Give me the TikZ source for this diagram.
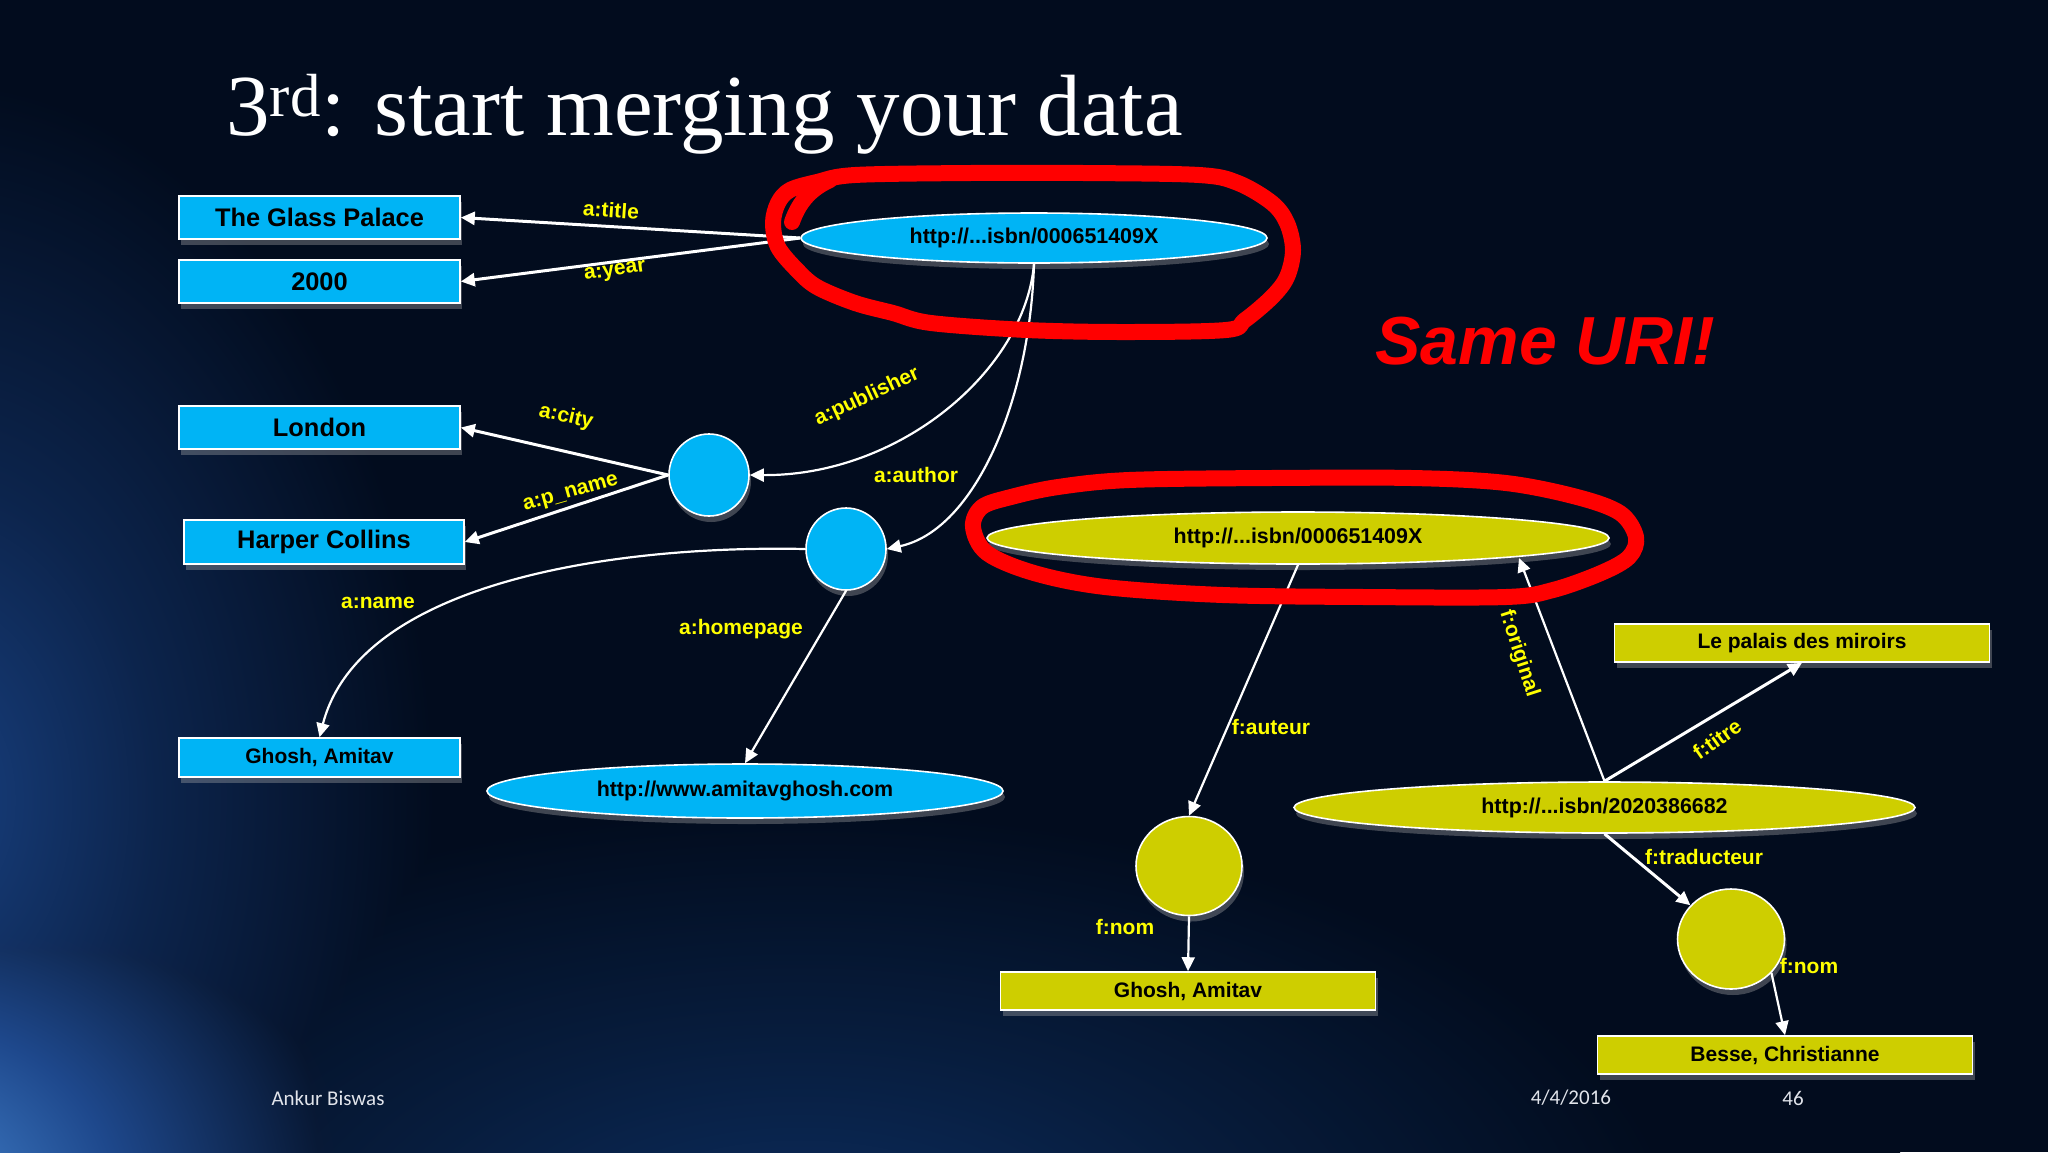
\documentclass[tikz,border=0pt]{standalone}
\usepackage{fontspec}
\setmainfont{Liberation Sans}
\newfontfamily\titlefont{Liberation Serif}
\newfontfamily\footfont{Carlito}
\usetikzlibrary{shapes.geometric,arrows.meta,shadows}
\definecolor{bg}{RGB}{2,12,30}
\definecolor{nodeblue}{RGB}{0,180,245}
\definecolor{nodeyel}{RGB}{206,206,0}
\definecolor{lblyel}{RGB}{255,255,0}
\definecolor{pen}{RGB}{255,0,0}
\definecolor{swA}{RGB}{24,64,128}
\definecolor{swAm}{RGB}{12,36,76}
\definecolor{swB}{RGB}{70,136,212}
\definecolor{swBm}{RGB}{30,72,140}
\definecolor{swC}{RGB}{12,45,95}
\definecolor{swCm}{RGB}{7,28,60}
\definecolor{foot}{RGB}{225,228,235}
\pgfdeclareradialshading{glowA}{\pgfpoint{0bp}{0bp}}{color(0bp)=(swA); color(9bp)=(swAm); color(20bp)=(bg); color(50bp)=(bg)}
\pgfdeclareradialshading{glowB}{\pgfpoint{0bp}{0bp}}{color(0bp)=(swB); color(9bp)=(swBm); color(20bp)=(bg); color(50bp)=(bg)}
\pgfdeclareradialshading{glowC}{\pgfpoint{0bp}{0bp}}{color(0bp)=(swC); color(10bp)=(swCm); color(20bp)=(bg); color(50bp)=(bg)}
\begin{document}
\begin{tikzpicture}[x=0.5pt,y=-0.5pt,
  shadowed/.style={drop shadow={shadow xshift=1pt,shadow yshift=-3pt,fill=gray!60,opacity=0.35}},
  bluebox/.style={shadowed,rectangle,draw=white,line width=0.8pt,fill=nodeblue,text=black,
    minimum width=140.5pt,minimum height=21.5pt,inner sep=0pt,font=\bfseries\fontsize{12.7}{15}\selectfont},
  yelbox/.style={shadowed,rectangle,draw=white,line width=0.8pt,fill=nodeyel,text=black,
    minimum width=187.5pt,minimum height=19pt,inner sep=0pt,font=\bfseries\fontsize{10.5}{12}\selectfont},
  uriell/.style={shadowed,ellipse,draw=white,line width=0.8pt,text=black,inner sep=0pt,
    font=\bfseries\fontsize{10.7}{12}\selectfont},
  dot/.style={shadowed,ellipse,draw=white,line width=0.8pt,inner sep=0pt},
  lbl/.style={text=lblyel,inner sep=0pt,font=\bfseries\fontsize{10.5}{12}\selectfont},
  edge/.style={draw=white,line width=1.5pt,-{Triangle[length=7pt,width=6.5pt]}},
  thinedge/.style={draw=white,line width=1.1pt,-{Triangle[length=7pt,width=6.5pt]}},
  loop/.style={draw=pen,line width=8pt,line join=round,line cap=round}
]
\useasboundingbox (0,0) rectangle (2048,1152);
\begin{scope}
\clip (0,0) rectangle (2048,1152);
\fill[bg] (0,0) rectangle (2048,1152);
\shade[shading=glowC,blend mode=lighten] (-300,700) rectangle (1900,1800);
\shade[shading=glowA,blend mode=lighten] (-700,-100) rectangle (560,1700);
\shade[shading=glowB,blend mode=lighten] (-700,700) rectangle (500,1700);
\end{scope}

% title and remarks
\node[anchor=base west,text=white,inner sep=0pt,font=\titlefont\fontsize{43.5}{50}\selectfont] (title) at (226,135) {3\textsuperscript{rd}: start merging your data};
\node[anchor=base west,text=pen,inner sep=0pt,font=\bfseries\itshape\fontsize{34}{40}\selectfont] (same) at (1375,364) {Same URI!};

% blue graph
\node[bluebox] (glass) at (319.5,217.5) {The Glass Palace};
\node[bluebox] (year) at (319.5,281.5) {2000};
\node[bluebox] (london) at (319.5,427.5) {London};
\node[bluebox,minimum width=140pt,minimum height=22pt] (harper) at (324,542) {Harper Collins};
\node[bluebox,minimum height=19.5pt,font=\bfseries\fontsize{10.5}{12}\selectfont] (ghoshb) at (319.5,757.5) {Ghosh, Amitav};
\node[uriell,fill=nodeblue,minimum width=233pt,minimum height=25pt] (b1) at (1034,238) {http://...isbn/000651409X};
\node[dot,fill=nodeblue,minimum width=40pt,minimum height=41pt] (pub) at (709,475) {};
\node[dot,fill=nodeblue,minimum width=40pt,minimum height=41pt] (auth) at (846,549) {};
\node[uriell,fill=nodeblue,minimum width=258pt,minimum height=27pt] (home) at (745,791) {http://www.amitavghosh.com};

% yellow graph
\node[uriell,fill=nodeyel,minimum width=311pt,minimum height=26pt] (y1) at (1298,538) {http://...isbn/000651409X};
\node[uriell,fill=nodeyel,minimum width=310.5pt,minimum height=25.5pt] (y2) at (1604.5,807.5) {http://...isbn/2020386682};
\node[dot,fill=nodeyel,minimum width=53pt,minimum height=49.5pt] (aut) at (1189,866) {};
\node[dot,fill=nodeyel,minimum width=53.5pt,minimum height=50pt] (trad) at (1731,939) {};
\node[yelbox] (lp) at (1802,643) {Le palais des miroirs};
\node[yelbox] (gy) at (1188,991) {Ghosh, Amitav};
\node[yelbox] (bs) at (1785,1055) {Besse, Christianne};
\coordinate (origtip) at (1519,558);

% connectors
\draw[edge] (b1.west) -- (glass.east);
\draw[edge] (b1.west) -- (year.east);
\draw[thinedge] (b1.south) .. controls (1025,370) and (900,476) .. (pub.east);
\draw[thinedge] (b1.south) .. controls (1030,400) and (975,530) .. (auth.east);
\draw[edge] (pub.west) -- (london.east);
\draw[edge] (pub.west) -- (harper.east);
\draw[thinedge] (auth.west) .. controls (620,545) and (360,580) .. (ghoshb.north);
\draw[thinedge] (auth.south) -- (home.north);
\draw[thinedge] (y1.south) -- (aut.north);
\draw[thinedge] (y2.north) -- (origtip);
\draw[edge] (y2.north) -- (lp.south);
\draw[edge] (y2.south) -- (trad);
\draw[thinedge] (aut.south) -- (gy.north);
\draw[thinedge] (trad.-40) -- (bs.north);

% labels
\node[lbl,rotate=-4] (ltitle) at (611,210) {a:title};
\node[lbl,rotate=8] (lyear) at (615,272) {a:year};
\node[lbl,rotate=25] (lpub) at (867,397) {a:publisher};
\node[lbl] (lauth) at (916,475) {a:author};
\node[lbl,rotate=-13] (lcity) at (566,417) {a:city};
\node[lbl,rotate=16] (lpname) at (571,494) {a:p\_name};
\node[lbl] (lname) at (378,603) {a:name};
\node[lbl] (lhome) at (741,629) {a:homepage};
\node[lbl] (lauteur) at (1271,727) {f:auteur};
\node[lbl,rotate=-72] (lorig) at (1519,654) {f:original};
\node[lbl,rotate=35] (ltitre) at (1717,739) {f:titre};
\node[lbl] (ltrad) at (1704,857) {f:traducteur};
\node[lbl] (lnom1) at (1125,927) {f:nom};
\node[lbl] (lnom2) at (1809,966) {f:nom};

% red pen loops
\draw[loop] plot[smooth cycle,tension=0.55] coordinates {
 (817,182) (855,175) (970,173) (1084,173) (1199,175) (1238,183) (1272,203) (1287,223)
 (1293,250) (1287,277) (1272,297) (1245,320) (1226,330) (1123,332) (1027,330) (931,323)
 (893,313) (855,303) (817,287) (797,270) (778,247) (773,223) (778,203) (790,190)};
\draw[loop] (830,180) .. controls (808,190) and (798,205) .. (792,222);
\draw[loop] plot[smooth cycle,tension=0.55] coordinates {
 (982,507) (1011,497) (1058,487) (1129,480) (1270,478) (1412,478) (1506,483) (1577,497)
 (1620,513) (1636,537) (1629,557) (1601,573) (1553,590) (1506,597) (1365,597) (1223,595)
 (1105,587) (1034,573) (987,553) (973,527)};

% footer
\node[text=foot,inner sep=0pt,font=\footfont\fontsize{10.5}{12}\selectfont] (fauthor) at (328,1098) {Ankur Biswas};
\node[text=foot,inner sep=0pt,font=\footfont\fontsize{10.5}{12}\selectfont] (fdate) at (1571,1098) {4/4/2016};
\node[text=foot,inner sep=0pt,font=\footfont\fontsize{10.5}{12}\selectfont] (fpage) at (1793,1098) {46};
\end{tikzpicture}
\end{document}
